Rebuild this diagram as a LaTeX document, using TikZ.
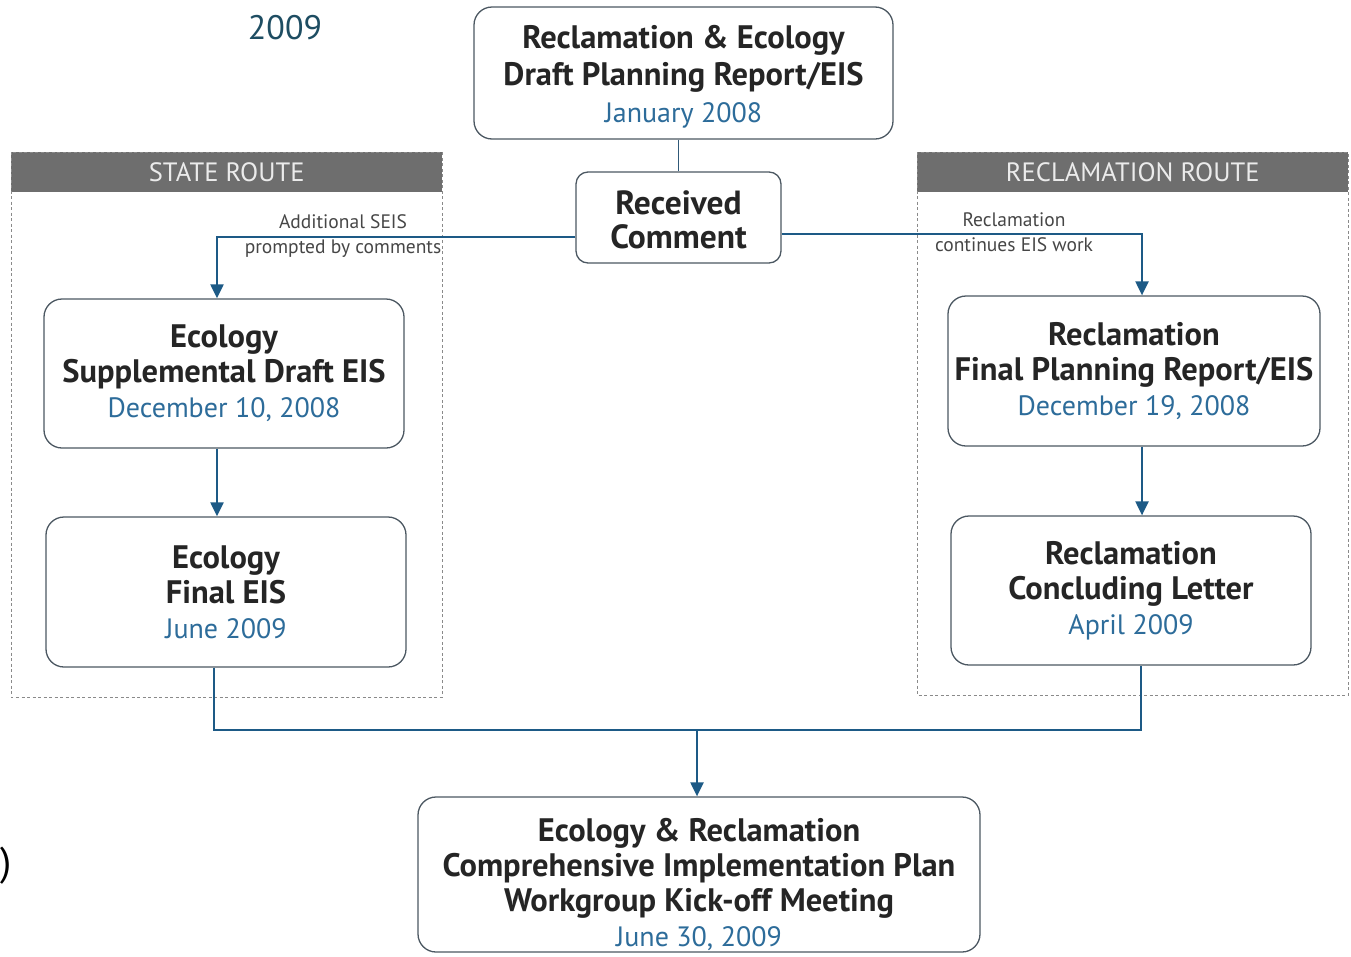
\documentclass[tikz,border=0pt]{standalone}
\usepackage{fontspec}
\setmainfont{PT Sans}
\usetikzlibrary{arrows.meta}
\definecolor{boxline}{HTML}{4C5862}
\definecolor{connc}{HTML}{1D5A86}
\definecolor{datec}{HTML}{2D6C9A}
\definecolor{titc}{HTML}{252525}
\definecolor{hdr}{HTML}{6E6E6E}
\definecolor{tealc}{HTML}{1E4D62}
\definecolor{dashc}{HTML}{8A8A8A}
\newcommand\datetext[1]{{\fontsize{28}{35}\selectfont\mdseries\color{datec}#1}}
\begin{document}
\begin{tikzpicture}[x=1pt,y=-1pt,
  box/.style={draw=boxline, line width=1.3pt, rounded corners=18pt, fill=white,
    align=center, inner sep=0pt, text=titc,
    font=\fontsize{32.5}{35}\selectfont\bfseries},
  txt/.style={align=center, inner sep=0pt, text=titc,
    font=\fontsize{32.5}{35}\selectfont\bfseries},
  panel/.style={draw=dashc, line width=0.9pt, dash pattern=on 3pt off 2.5pt},
  hdrbox/.style={fill=hdr, draw=none, inner sep=0pt, text=white!92!black,
    font=\fontsize{26.5}{28}\selectfont},
  lbl/.style={inner sep=0pt, text=titc!85, align=center,
    font=\fontsize{19.5}{25}\selectfont},
  conn/.style={draw=connc, line width=2.2pt},
  arr/.style={conn, -{Triangle[width=13pt,length=14pt]}}
]
\useasboundingbox (0,0) rectangle (1351,956);

% panels
\node[hdrbox, minimum width=431, minimum height=40, anchor=north west] (sh) at (11,152) {STATE ROUTE};
\node[hdrbox, minimum width=431, minimum height=40, anchor=north west] (rh) at (917,152) {RECLAMATION ROUTE};
\draw[panel] (11,152) rectangle (442,697);
\draw[panel] (917,152) rectangle (1348,695);

% partial text at edges
\node[inner sep=0pt, text=tealc, font=\fontsize{34}{38}\selectfont] (yr) at (285,28) {2009};
\node[inner sep=0pt, text=black, font=\fontsize{40}{44}\selectfont, anchor=west] (par) at (0,866) {)};

% boxes
\node[box, minimum width=419, minimum height=132] (top) at (683.5,73) {};
\node[txt, font=\fontsize{32.5}{37}\selectfont\bfseries] (topt) at (683.5,77)
  {Reclamation \& Ecology\\Draft Planning Report/EIS\\\datetext{January 2008}};
\node[box, minimum width=205, minimum height=91, rounded corners=12pt] (rc) at (678.5,217.5) {};
\node[txt, font=\fontsize{33.5}{34}\selectfont\bfseries] (rct) at (678.5,220) {Received\\Comment};
\node[box, minimum width=360, minimum height=149] (esd) at (224,373.5)
  {Ecology\\Supplemental Draft EIS\\\datetext{December 10, 2008}};
\node[box, minimum width=360, minimum height=150] (efe) at (226,592)
  {Ecology\\Final EIS\\\datetext{June 2009}};
\node[box, minimum width=372, minimum height=150] (rfp) at (1134,371)
  {Reclamation\\Final Planning Report/EIS\\\datetext{December 19, 2008}};
\node[box, minimum width=360, minimum height=149] (rcl) at (1131,590.5)
  {Reclamation\\Concluding Letter\\\datetext{April 2009}};
\node[box, minimum width=562, minimum height=155] (cip) at (699,874.5) {};
\node[txt] (cipt) at (699,884)
  {Ecology \& Reclamation\\Comprehensive Implementation Plan\\Workgroup Kick-off Meeting\\\datetext{June 30, 2009}};

% connectors
\draw[conn, draw=connc!60!boxline, line width=1.6pt] (top.south -| rc.north) -- (rc.north);
\draw[arr] (rc.west |- 0,237) -| (esd.north -| 217,0);
\draw[arr] (rc.east |- 0,234) -| (rfp.north -| 1142,0);
\draw[arr] (esd.south -| 217,0) -- (efe.north -| 217,0);
\draw[arr] (rfp.south -| 1142,0) -- (rcl.north -| 1142,0);
\coordinate (jl) at (214,730);
\coordinate (jr) at (1141,730);
\coordinate (jm) at (697,730);
\draw[conn] (efe.south -| jl) -- (jl) -- (jr) -- (rcl.south -| jr);
\draw[arr] (jm) -- (cip.north -| jm);

% labels
\node[lbl] (l1) at (343,236) {Additional SEIS\\prompted by comments};
\node[lbl] (l2) at (1014,232) {Reclamation\\continues EIS work};
\end{tikzpicture}
\end{document}
